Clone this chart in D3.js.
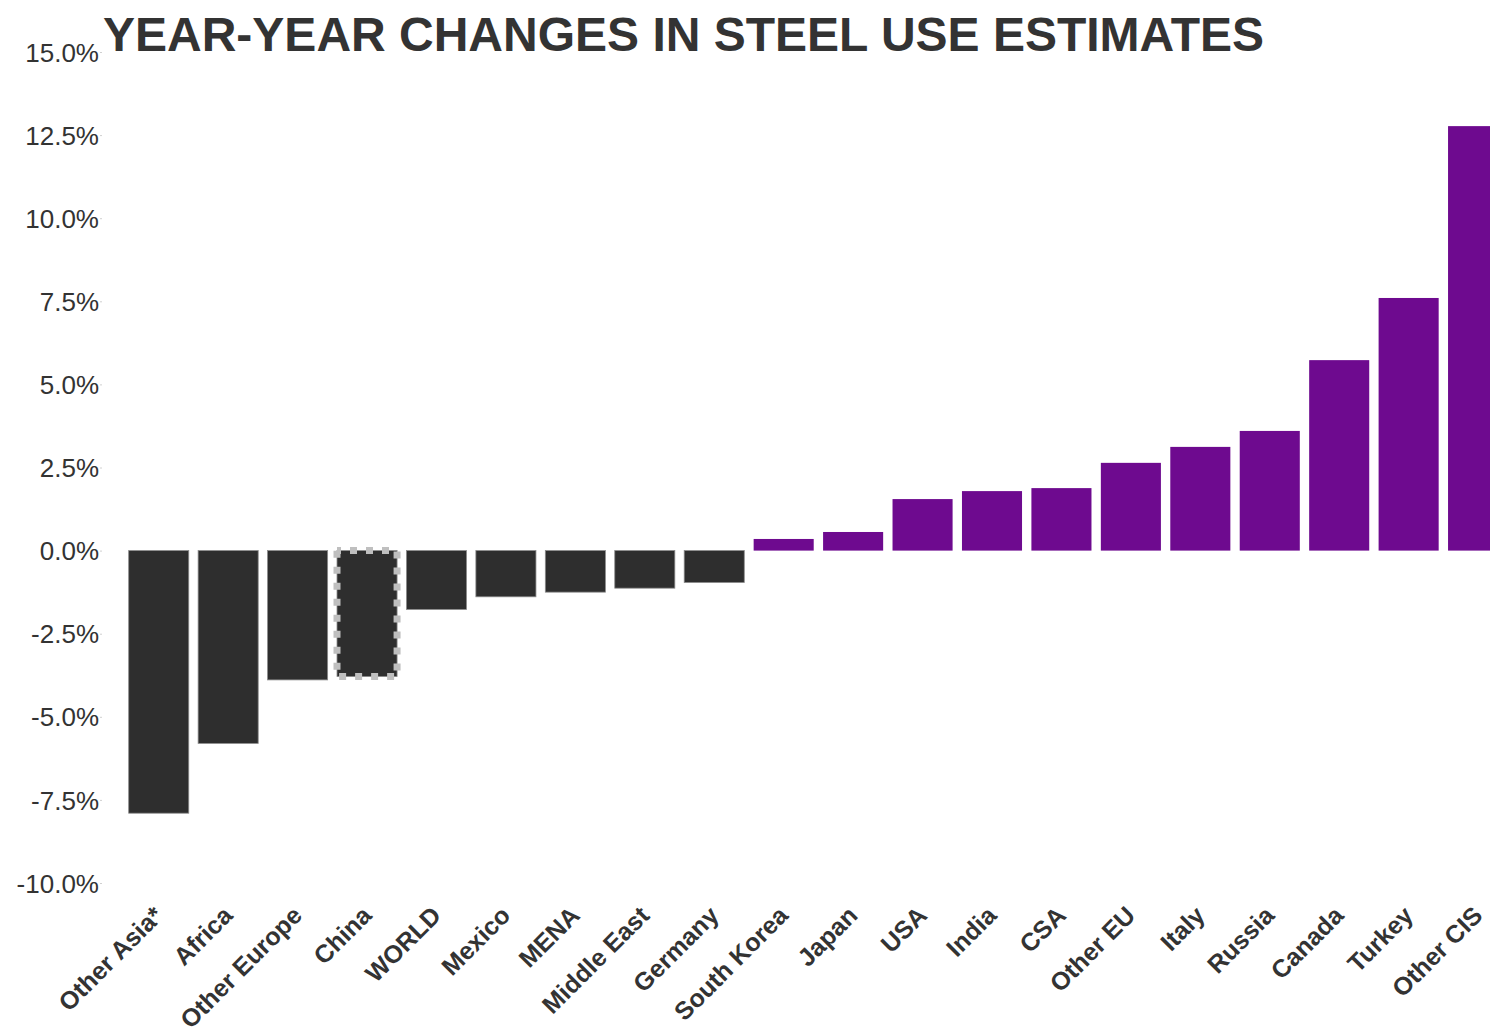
<!DOCTYPE html>
<html>
<head>
<meta charset="utf-8">
<script src="https://cdn.jsdelivr.net/npm/d3@7"></script>
<style>
  html, body { margin: 0; padding: 0; background: #fff; }
  svg { display: block; }
</style>
</head>
<body>
<script>
const categories = ["Other Asia*", "Africa", "Other Europe", "China", "WORLD", "Mexico", "MENA", "Middle East", "Germany", "South Korea", "Japan", "USA", "India", "CSA", "Other EU", "Italy", "Russia", "Canada", "Turkey", "Other CIS"];
const values = [-7.9, -5.8, -3.89, -3.79, -1.77, -1.39, -1.25, -1.13, -0.96, 0.35, 0.56, 1.55, 1.79, 1.88, 2.64, 3.12, 3.6, 5.73, 7.6, 12.77];
const yTicks = [-10, -7.5, -5, -2.5, 0, 2.5, 5, 7.5, 10, 12.5, 15];
const highlighted = ["China"];
const title = "YEAR-YEAR CHANGES IN STEEL USE ESTIMATES";

const W = 1490, H = 1027;
const svg = d3.select("body").append("svg").attr("width", W).attr("height", H);

const x = d3.scaleBand().domain(categories).range([124, 1512.8]).paddingInner(0.135).paddingOuter(0.0675);
const y = d3.scaleLinear().domain([-10, 15]).range([883, 52]);

// y axis
const yAxis = d3.axisLeft(y).tickValues(yTicks).tickSize(2).tickPadding(1).tickFormat(d => d.toFixed(1) + "%");
const gy = svg.append("g").attr("transform", "translate(102,0)").call(yAxis);
gy.select(".domain").remove();
gy.selectAll(".tick line").attr("stroke", "#d0d0d0");
gy.selectAll(".tick text").attr("font-family", "Liberation Sans, Arial, sans-serif").attr("font-size", 26).attr("fill", "#333").attr("dy", "0.35em");

// bars
const data = categories.map((c, i) => ({ c, v: values[i] }));
svg.append("g").selectAll("rect").data(data).join("rect")
  .attr("x", d => x(d.c))
  .attr("width", x.bandwidth())
  .attr("y", d => y(Math.max(0, d.v)))
  .attr("height", d => Math.abs(y(d.v) - y(0)))
  .attr("fill", d => d.v < 0 ? "#2e2e2e" : "#6e0a8f")
  .attr("stroke", d => d.v < 0 ? "#8a8a8a" : "none")
  .attr("stroke-width", 0.8);

// highlighted dashed outline
svg.append("g").selectAll("rect").data(data.filter(d => highlighted.includes(d.c))).join("rect")
  .attr("x", d => x(d.c))
  .attr("width", x.bandwidth())
  .attr("y", d => y(Math.max(0, d.v)))
  .attr("height", d => Math.abs(y(d.v) - y(0)))
  .attr("fill", "none")
  .attr("stroke", "#bfbfbf")
  .attr("stroke-width", 7)
  .attr("stroke-dasharray", "7,9")
  .attr("stroke-dashoffset", 3);

// x labels
svg.append("g").selectAll("text").data(categories).join("text")
  .attr("transform", d => `translate(${x(d) + x.bandwidth() / 2 + 6},917) rotate(-45)`)
  .attr("text-anchor", "end")
  .attr("font-family", "Liberation Sans, Arial, sans-serif")
  .attr("font-weight", "bold")
  .attr("font-size", 25)
  .attr("fill", "#333")
  .text(d => d);

// title
svg.append("text")
  .attr("x", 103).attr("y", 51)
  .attr("font-family", "Liberation Sans, Arial, sans-serif")
  .attr("font-weight", "bold")
  .attr("font-size", 48)
  .attr("fill", "#333")
  .text(title);
</script>
</body>
</html>
